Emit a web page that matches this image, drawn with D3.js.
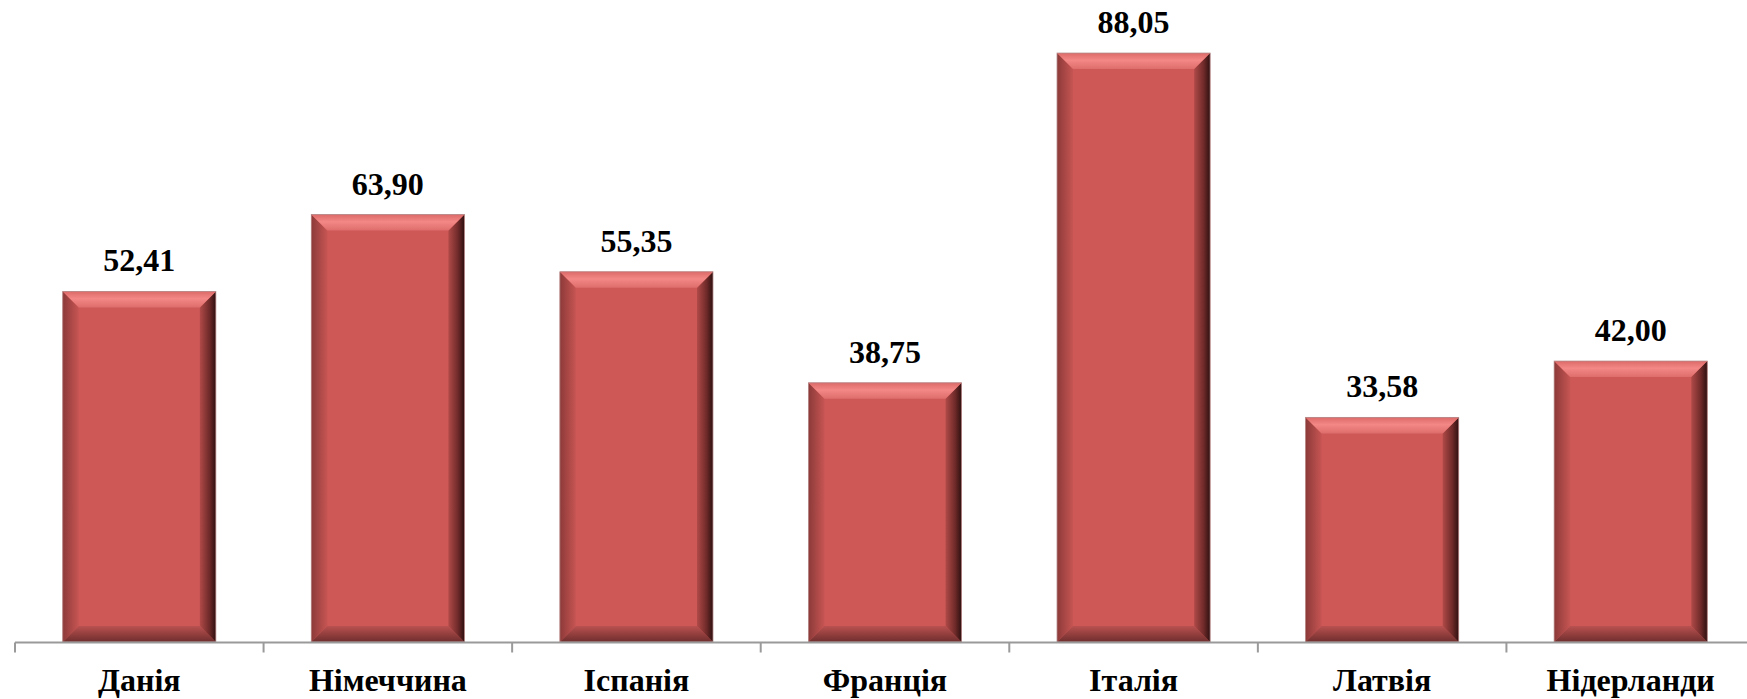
<!DOCTYPE html>
<html>
<head>
<meta charset="utf-8">
<script src="https://cdn.jsdelivr.net/npm/d3@7"></script>
<style>
  html, body { margin: 0; padding: 0; background: #fff; }
  svg { display: block; }
</style>
</head>
<body>
<script>
const WIDTH = 1747;
const HEIGHT = 699;
const MARGIN = { left: 15, right: -8, top: 40, bottom: 57 };
const BEVEL = 16;
const FONT = "Liberation Serif";

const countries = ["Данія", "Німеччина", "Іспанія", "Франція", "Італія", "Латвія", "Нідерланди"];
const values = [52.41, 63.90, 55.35, 38.75, 88.05, 33.58, 42.00];

const data = countries.map((name, i) => ({ name, value: values[i] }));

const x = d3.scaleBand()
  .domain(countries)
  .range([MARGIN.left, WIDTH - MARGIN.right])
  .paddingInner(0.384)
  .paddingOuter(0.192);

const y = d3.scaleLinear([0, 90], [HEIGHT - MARGIN.bottom, MARGIN.top]);

const fmt = v => d3.format(".2f")(v).replace(".", ",");

const svg = d3.select("body").append("svg")
  .attr("width", WIDTH)
  .attr("height", HEIGHT)
  .attr("viewBox", [0, 0, WIDTH, HEIGHT]);

// gradients for the bevel sides
const defs = svg.append("defs");
function grad(id, x2, y2, stops) {
  const g = defs.append("linearGradient")
    .attr("id", id)
    .attr("x1", 0).attr("y1", 0)
    .attr("x2", x2).attr("y2", y2);
  stops.forEach(([o, c]) => g.append("stop").attr("offset", o).attr("stop-color", c));
}
grad("bev-top", 0, 1, [[0, "#dc6a68"], [0.45, "#f38886"], [1, "#dd6d6b"]]);
grad("bev-right", 1, 0, [[0, "#b04a48"], [0.6, "#6e2a29"], [1, "#2e1010"]]);
grad("bev-bottom", 0, 1, [[0, "#b95150"], [1, "#6e2e2d"]]);
grad("bev-left", 1, 0, [[0, "#8c3a39"], [1, "#c65553"]]);

const bar = svg.append("g")
  .selectAll("g")
  .data(data)
  .join("g");

bar.append("rect")
  .attr("x", d => x(d.name))
  .attr("y", d => y(d.value))
  .attr("width", x.bandwidth())
  .attr("height", d => y(0) - y(d.value))
  .attr("fill", "#cd5856");

function side(d, which) {
  const x0 = x(d.name), x1 = x0 + x.bandwidth();
  const y0 = y(d.value), y1 = y(0);
  const b = BEVEL;
  const pts = {
    top: [[x0, y0], [x1, y0], [x1 - b, y0 + b], [x0 + b, y0 + b]],
    right: [[x1, y0], [x1, y1], [x1 - b, y1 - b], [x1 - b, y0 + b]],
    bottom: [[x0, y1], [x1, y1], [x1 - b, y1 - b], [x0 + b, y1 - b]],
    left: [[x0, y0], [x0, y1], [x0 + b, y1 - b], [x0 + b, y0 + b]]
  }[which];
  return "M" + pts.map(p => p.join(",")).join("L") + "Z";
}

["left", "bottom", "right", "top"].forEach(s => {
  bar.append("path")
    .attr("d", d => side(d, s))
    .attr("fill", `url(#bev-${s})`);
});

bar.append("rect")
  .attr("x", d => x(d.name))
  .attr("y", d => y(d.value))
  .attr("width", x.bandwidth())
  .attr("height", d => y(0) - y(d.value))
  .attr("fill", "none")
  .attr("stroke", "#b58a8a")
  .attr("stroke-width", 0.8);

// value labels
svg.append("g")
  .attr("font-family", FONT)
  .attr("font-weight", "bold")
  .attr("font-size", 32)
  .attr("text-anchor", "middle")
  .selectAll("text")
  .data(data)
  .join("text")
  .attr("x", d => x(d.name) + x.bandwidth() / 2)
  .attr("y", d => y(d.value) - 20)
  .text(d => fmt(d.value));

// category axis
const gap = x.step() - x.bandwidth();
const axisG = svg.append("g")
  .attr("transform", `translate(0,${y(0) + 0.5})`);

axisG.append("line")
  .attr("x1", MARGIN.left)
  .attr("x2", WIDTH)
  .attr("stroke", "#9a9a9a")
  .attr("stroke-width", 2);

axisG.selectAll(".tick")
  .data(countries)
  .join("line")
  .attr("class", "tick")
  .attr("x1", d => x(d) - gap / 2)
  .attr("x2", d => x(d) - gap / 2)
  .attr("y1", 0)
  .attr("y2", 10)
  .attr("stroke", "#9a9a9a")
  .attr("stroke-width", 2);

axisG.append("g")
  .attr("font-family", FONT)
  .attr("font-weight", "bold")
  .attr("font-size", 32)
  .attr("text-anchor", "middle")
  .selectAll("text")
  .data(countries)
  .join("text")
  .attr("x", d => x(d) + x.bandwidth() / 2)
  .attr("y", 48)
  .text(d => d);
</script>
</body>
</html>
